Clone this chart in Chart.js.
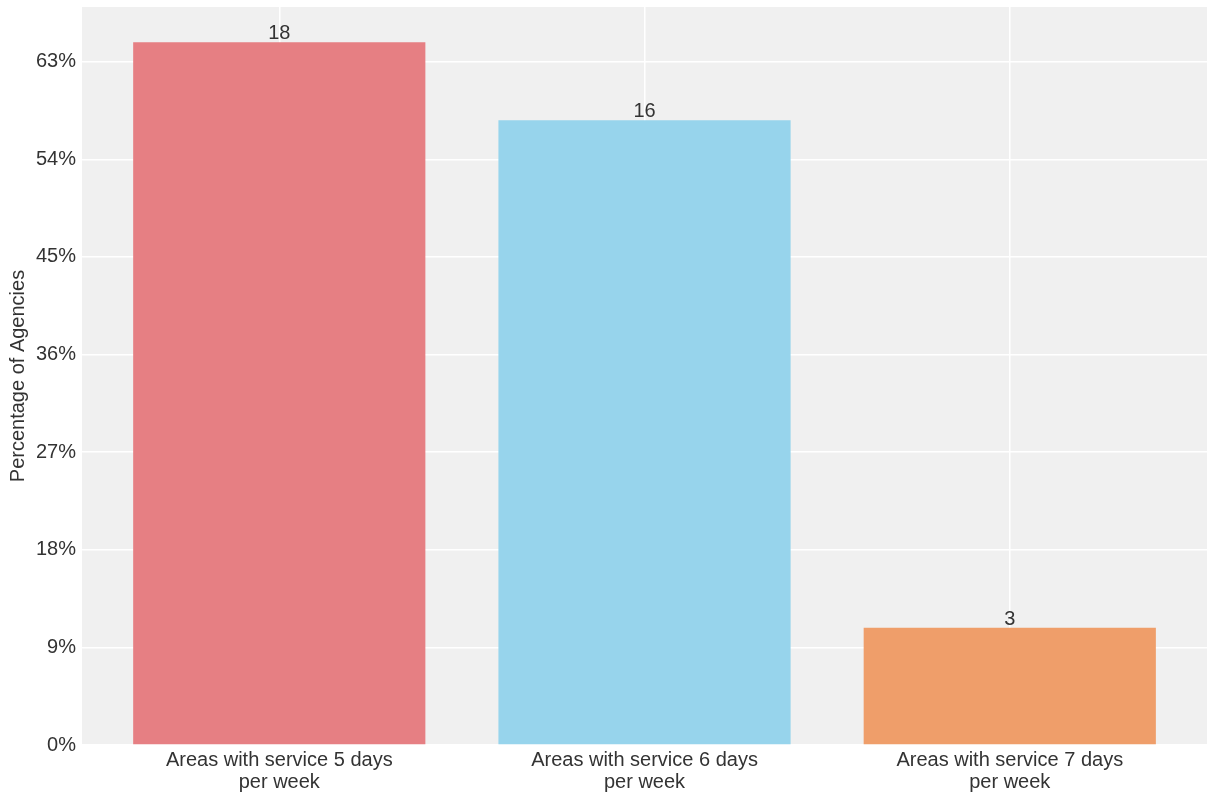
<!DOCTYPE html>
<html>
<head>
<meta charset="utf-8">
<script src="https://cdn.jsdelivr.net/npm/chart.js@4"></script>
<style>
  html, body { margin: 0; padding: 0; background: #fff; }
  canvas { display: block; }
</style>
</head>
<body>
<canvas id="chart" width="1207" height="797"></canvas>
<script>
// Data
const categories = [
    ['Areas with service 5 days', 'per week'],
    ['Areas with service 6 days', 'per week'],
    ['Areas with service 7 days', 'per week']
];
const agencyCounts = [18, 16, 3];
const barColors = ['#e67f83', '#97d4ec', '#ef9e6a'];
const yTickValues = [0, 2.5, 5, 7.5, 10, 12.5, 15, 17.5];
const yTickLabels = ['0%', '9%', '18%', '27%', '36%', '45%', '54%', '63%'];

const textColor = '#333333';
const fontFamily = '"Liberation Sans", Arial, sans-serif';

// draws the count above each bar
const barLabels = {
    id: 'barLabels',
    afterDatasetsDraw(chart) {
        const ctx = chart.ctx;
        const meta = chart.getDatasetMeta(0);
        ctx.save();
        ctx.font = '20px ' + fontFamily;
        ctx.fillStyle = textColor;
        ctx.textAlign = 'center';
        ctx.textBaseline = 'alphabetic';
        meta.data.forEach((bar, i) => {
            ctx.fillText(String(agencyCounts[i]), bar.x, bar.y - 3);
        });
        ctx.restore();
    }
};

// grey plot background
const plotBackground = {
    id: 'plotBackground',
    beforeDraw(chart) {
        const { ctx, chartArea } = chart;
        ctx.save();
        ctx.fillStyle = '#f0f0f0';
        ctx.fillRect(chartArea.left, chartArea.top, chartArea.right - chartArea.left, chartArea.bottom - chartArea.top);
        ctx.restore();
    }
};

const chart = new Chart(document.getElementById('chart').getContext('2d'), {
    type: 'bar',
    data: {
        datasets: [{
            data: agencyCounts.map((v, i) => ({ x: i, y: v })),
            backgroundColor: barColors,
            borderWidth: 0,
            barPercentage: 0.8,
            categoryPercentage: 1.0
        }]
    },
    options: {
        responsive: false,
        animation: false,
        layout: { padding: { top: 7, right: 0, bottom: 0, left: 6 } },
        plugins: {
            legend: { display: false },
            tooltip: { enabled: false }
        },
        scales: {
            x: {
                type: 'linear',
                min: -0.54,
                max: 2.54,
                offset: false,
                afterBuildTicks: axis => {
                    axis.ticks = categories.map((c, i) => ({ value: i }));
                },
                afterFit: axis => {
                    axis.paddingLeft = 0;
                    axis.paddingRight = 0;
                },
                ticks: {
                    callback: value => categories[value],
                    color: textColor,
                    font: { family: fontFamily, size: 20, lineHeight: 1.1 },
                    padding: 4,
                    maxRotation: 0,
                    autoSkip: false
                },
                grid: { color: '#ffffff', lineWidth: 1.5, drawTicks: false, offset: false },
                border: { display: false }
            },
            y: {
                min: 0,
                max: 18.9,
                afterBuildTicks: axis => {
                    axis.ticks = yTickValues.map(v => ({ value: v }));
                },
                afterFit: axis => {
                    axis.paddingTop = 0;
                    axis.paddingBottom = 0;
                },
                ticks: {
                    callback: (value, index) => yTickLabels[index],
                    color: textColor,
                    font: { family: fontFamily, size: 20 },
                    padding: 6
                },
                title: {
                    display: true,
                    text: 'Percentage of Agencies',
                    color: textColor,
                    font: { family: fontFamily, size: 20 },
                    padding: { top: 0, bottom: 0 }
                },
                grid: { color: '#ffffff', lineWidth: 1.5, drawTicks: false },
                border: { display: false }
            }
        }
    },
    plugins: [plotBackground, barLabels]
});
</script>
</body>
</html>
